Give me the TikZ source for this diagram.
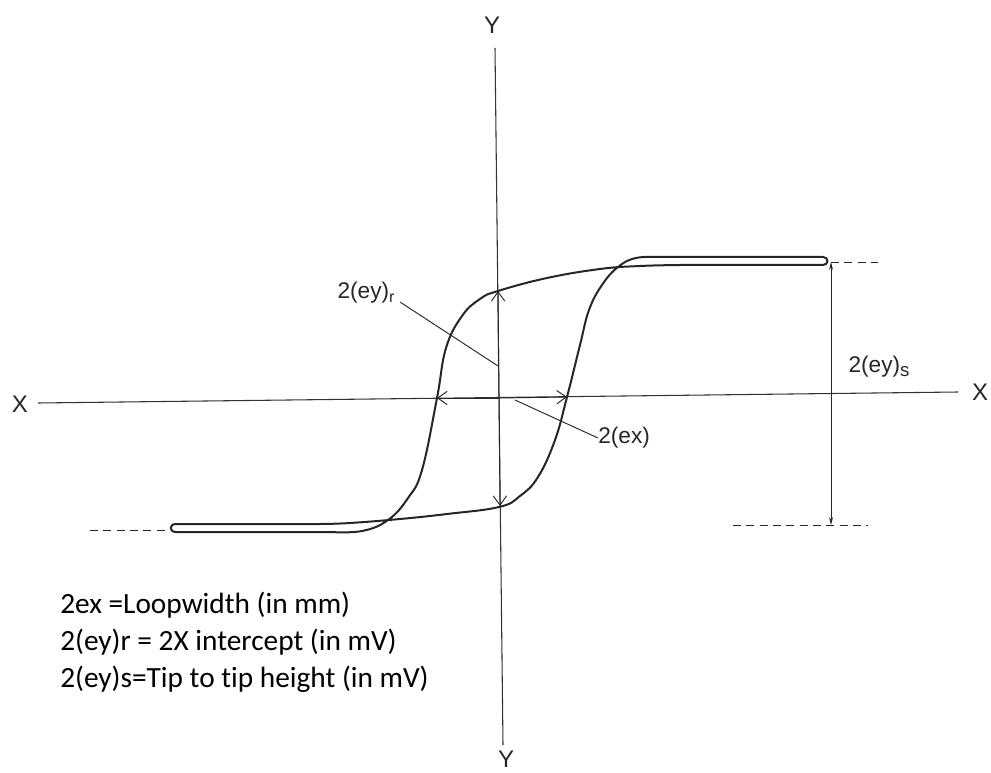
\documentclass[tikz,border=0pt]{standalone}
\usepackage{fontspec}
\setmainfont{Liberation Sans}
\newfontfamily\legendfont[Ligatures=NoCommon]{Carlito}
\usetikzlibrary{arrows.meta}
\begin{document}
\begin{tikzpicture}[x=0.75pt,y=-0.75pt,
  axis/.style={line width=0.8pt, draw=black!80},
  hloop/.style={line width=1.5pt, line join=round, draw=black!85},
  barb/.style={line width=0.7pt, draw=black!85, -{Straight Barb[length=7pt,width=10pt]}},
  dimline/.style={line width=0.7pt, draw=black!85, {Stealth[length=6pt,width=3pt]}-{Stealth[length=6pt,width=3pt]}},
  guide/.style={line width=0.7pt, draw=black!85, dash pattern=on 6pt off 4pt},
  leader/.style={line width=0.7pt, draw=black!85},
  axlabel/.style={font=\fontsize{18}{20}\selectfont, inner sep=0pt, text=black!85},
  lbl/.style={font=\fontsize{17}{19}\selectfont, inner sep=0pt, text=black!85},
  legend/.style={font=\legendfont\fontsize{22}{26}\selectfont, inner sep=0pt, anchor=base west}]

\useasboundingbox (0,0) rectangle (991,773);

% axes
\coordinate (XL) at (38,403);
\coordinate (XR) at (958,392);
\coordinate (YT) at (495,48);
\coordinate (YB) at (503,745);
\draw[axis] (XL) -- (XR);
\draw[axis] (YT) -- (YB);
\node[axlabel] (xl) at (20,404) {X};
\node[axlabel] (xr) at (980,392) {X};
\node[axlabel] (yt) at (492,25) {Y};
\node[axlabel] (yb) at (506,759) {Y};

% hysteresis loop
\draw[hloop] (823,257) -- (660,257)
  -- plot[smooth, tension=0.7] coordinates {(660,257) (636,258) (618,267) (602,285) (589,310) (580,345) (567,397) (555,440) (538,477) (520,496) (499,507) (447,514) (400,519) (350,523) (320,524)}
  -- (176,524) .. controls (169,524) and (169,532) .. (176,532)
  -- plot[smooth, tension=0.7] coordinates {(330,532) (362,531) (388,520) (408,498) (422,470) (437,398) (446,348) (462,316) (480,299) (498,291) (547,278) (600,269) (640,266) (680,265)}
  -- (823,265) .. controls (829,265) and (829,257) .. (823,257) -- cycle;

% intercept arrows
\coordinate (O) at (499,398);
\coordinate (yrT) at (498,291);
\coordinate (yrB) at (500,506);
\coordinate (exL) at (437,398);
\coordinate (exR) at (567,397);
\draw[barb] (O) -- (yrT);
\draw[barb] (O) -- (yrB);
\draw[barb] (O) -- (exL);
\draw[barb] (O) -- (exR);

% labels and leaders
\node[lbl] (eyr) at (366,293) {2(ey)\raisebox{-3pt}{\fontsize{12}{12}\selectfont r}};
\coordinate (eyrA) at (400,302);
\coordinate (eyrB) at (498,366);
\draw[leader] (eyrA) -- (eyrB);

\node[lbl, anchor=west] (ex) at (598,438) {2(ex)};
\coordinate (exA) at (515,400);
\draw[leader] (exA) -- (ex.west);

\node[lbl] (eys) at (879,367) {2(ey)\raisebox{-3pt}{\fontsize{14}{14}\selectfont s}};

% saturation dimension
\coordinate (sT) at (831,262);
\coordinate (sB) at (831,525);
\draw[dimline] (sT) -- (sB);
\coordinate (gT) at (878,262);
\coordinate (gB1) at (733,525);
\coordinate (gB2) at (868,525);
\coordinate (gL1) at (90,530);
\coordinate (gL2) at (170,530);
\draw[guide] (sT) -- (gT);
\draw[guide] (gB1) -- (gB2);
\draw[guide] (gL1) -- (gL2);

% legend
\node[legend] (leg1) at (60,613) {2ex =Loopwidth (in mm)};
\node[legend] (leg2) at (60,650) {2(ey)r = 2X intercept (in mV)};
\node[legend] (leg3) at (60,687) {2(ey)s=Tip to tip height (in mV)};
\end{tikzpicture}
\end{document}
